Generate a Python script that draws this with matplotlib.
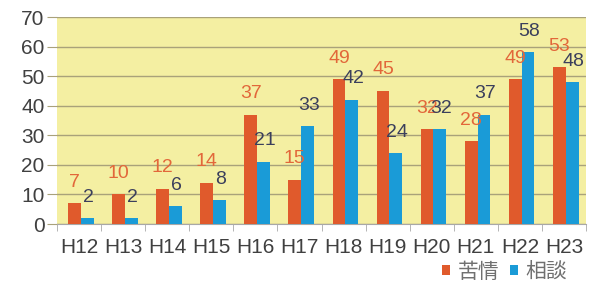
import matplotlib
matplotlib.use('Agg')
import matplotlib.pyplot as plt
import numpy as np

plt.rcParams['font.family'] = ['Liberation Sans', 'Noto Sans CJK JP', 'DejaVu Sans']

years = ["H12", "H13", "H14", "H15", "H16", "H17", "H18", "H19", "H20", "H21", "H22", "H23"]
kujo = [7, 10, 12, 14, 37, 15, 49, 45, 32, 28, 49, 53]    # 苦情
sodan = [2, 2, 6, 8, 21, 33, 42, 24, 32, 37, 58, 48]      # 相談

c_kujo = "#E05A2C"
c_sodan = "#1A9BD7"

fig = plt.figure(figsize=(5.93, 2.86), dpi=100, facecolor="white")
ax = fig.add_axes([57 / 593, 62 / 286, 529 / 593, 207 / 286])
ax.set_facecolor("#F4EFA2")

x = np.arange(len(years))
w = 0.29
b1 = ax.bar(x - w / 2 + 0.04, kujo, w, color=c_kujo, label="苦情", zorder=3)
b2 = ax.bar(x + w / 2 + 0.04, sodan, w, color=c_sodan, label="相談", zorder=3)

for bar, v in zip(b1, kujo):
    ax.annotate(str(v), (bar.get_x() + bar.get_width() / 2, v), xytext=(0, 9),
                textcoords="offset points", ha="center", va="bottom",
                fontsize=14, color="#E2673A", zorder=4, annotation_clip=False)
for bar, v in zip(b2, sodan):
    ax.annotate(str(v), (bar.get_x() + bar.get_width() / 2, v), xytext=(1, 9),
                textcoords="offset points", ha="center", va="bottom",
                fontsize=14, color="#3B3F5C", zorder=4, annotation_clip=False)

ax.set_xlim(-0.5, len(years) - 0.5)
ax.set_ylim(0, 70)
ax.set_yticks(range(0, 71, 10))
ax.grid(axis="y", color="#A9A27A", linewidth=1.0, zorder=1)
for s in ["left", "right", "top"]:
    ax.spines[s].set_visible(False)
ax.spines["bottom"].set_color("#A8A8A8")

ax.set_xticks(x)
ax.set_xticklabels(years)
ax.set_xticks(np.arange(-0.5, len(years), 1), minor=True)
ax.tick_params(axis="x", which="major", length=0, labelsize=15, labelcolor="#404040", pad=10)
ax.tick_params(axis="x", which="minor", length=5, color="#A8A8A8")
ax.tick_params(axis="y", length=7, color="#A9A27A", labelsize=15, labelcolor="#404040", pad=2)

fig.legend(handles=[b1, b2], loc="center right", bbox_to_anchor=(578 / 593, 1 - 272 / 286),
           ncol=2, frameon=False, fontsize=15, handlelength=0.35, handleheight=0.35,
           handletextpad=0.4, columnspacing=0.5, labelcolor="#707070", borderpad=0)

fig.savefig("out.png", dpi=100, facecolor="white")
